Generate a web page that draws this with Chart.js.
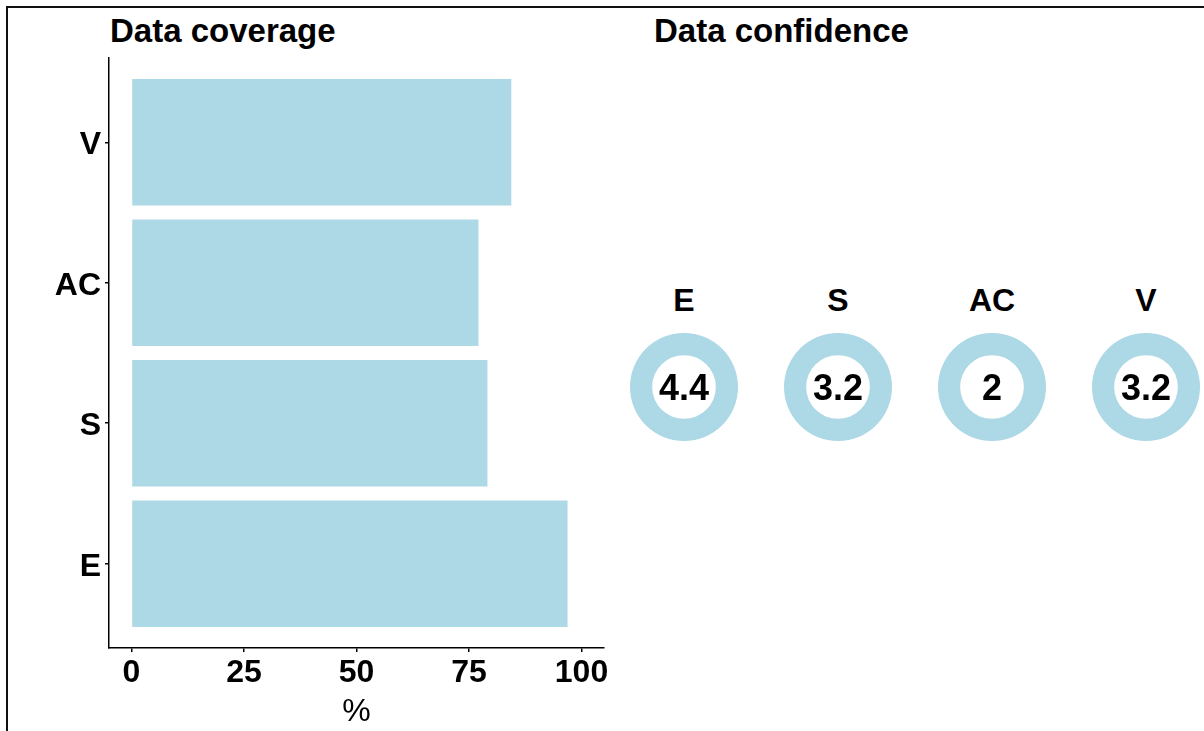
<!DOCTYPE html>
<html>
<head>
<meta charset="utf-8">
<script src="https://cdn.jsdelivr.net/npm/chart.js@4"></script>
<style>
  html, body { margin: 0; padding: 0; background: #fff; overflow: hidden; }
  body { width: 1204px; height: 731px; position: relative; font-family: "Liberation Sans", Arial, sans-serif; }
  .frame { position: absolute; left: 6px; top: 6px; width: 1400px; height: 1000px; border: 2px solid #111; }
  .title { position: absolute; font-size: 33px; font-weight: bold; line-height: 33px; color: #000; white-space: nowrap; }
  .lbl { position: absolute; width: 120px; text-align: center; font-weight: bold; color: #000; }
  #bars { position: absolute; left: 0; top: 0; }
  .ring { position: absolute; }
</style>
</head>
<body>
<div class="frame"></div>
<div class="title" style="left:110px; top:14px;">Data coverage</div>
<div class="title" style="left:654px; top:14px;">Data confidence</div>
<canvas id="bars" width="620" height="731"></canvas>
<div id="rings"></div>

<script>
// valeurs
const categories = ['E', 'S', 'AC', 'V'];          // de bas en haut
const coverage = [96.9, 79.1, 77.1, 84.4];          // %
const xTicks = [0, 25, 50, 75, 100];

const confLabels = ['E', 'S', 'AC', 'V'];           // de gauche à droite
const confidence = [4.4, 3.2, 2, 3.2];

const blue = '#ADD8E6';
const font = 'Liberation Sans';

Chart.defaults.font.family = font;
Chart.defaults.animation = false;

function createBarChart() {
    const ctx = document.getElementById('bars');
    new Chart(ctx, {
        type: 'bar',
        data: {
            datasets: [{
                data: categories.map((c, i) => ({ x: coverage[i], y: i })),
                backgroundColor: blue,
                borderWidth: 0,
                barPercentage: 0.9,
                categoryPercentage: 1
            }]
        },
        options: {
            indexAxis: 'y',
            responsive: false,
            layout: { padding: { top: 58, right: 16, left: 0, bottom: 0 } },
            plugins: { legend: { display: false }, tooltip: { enabled: false }, title: { display: false } },
            scales: {
                x: {
                    type: 'linear',
                    min: -5,
                    max: 105,
                    afterBuildTicks: axis => { axis.ticks = xTicks.map(v => ({ value: v })); },
                    afterFit: axis => { axis.height = 83; },
                    grid: { drawOnChartArea: false, color: '#000', lineWidth: 1.5, tickLength: 4 },
                    border: { color: '#000', width: 1.5 },
                    ticks: { color: '#000', font: { size: 32, weight: 'bold' }, padding: 2, maxRotation: 0 },
                    title: { display: true, text: '%', color: '#000', font: { size: 32 }, padding: { top: 0, bottom: 0 } }
                },
                y: {
                    type: 'linear',
                    min: -0.6,
                    max: 3.6,
                    offset: false,
                    afterBuildTicks: axis => { axis.ticks = categories.map((c, i) => ({ value: i })); },
                    afterFit: axis => { axis.width = 109; },
                    grid: { offset: false, drawOnChartArea: false, color: '#000', lineWidth: 1.5, tickLength: 4 },
                    border: { color: '#000', width: 1.5 },
                    ticks: {
                        color: '#000',
                        font: { size: 32, weight: 'bold' },
                        padding: 4,
                        labelOffset: 3,
                        callback: v => categories[v]
                    }
                }
            }
        }
    });
}

function createRings() {
    const holder = document.getElementById('rings');
    const cx0 = 684, cy = 387, step = 154, size = 108;
    confLabels.forEach((name, i) => {
        const cx = cx0 + i * step;

        const top = document.createElement('div');
        top.className = 'lbl';
        top.style.cssText = `left:${cx - 60}px; top:284px; font-size:32px; line-height:32px;`;
        top.textContent = name;
        holder.appendChild(top);

        const cv = document.createElement('canvas');
        cv.className = 'ring';
        cv.width = size; cv.height = size;
        cv.style.left = (cx - size / 2) + 'px';
        cv.style.top = (cy - size / 2) + 'px';
        holder.appendChild(cv);

        new Chart(cv, {
            type: 'doughnut',
            data: {
                labels: [name],
                datasets: [{ data: [confidence[i]], backgroundColor: blue, borderWidth: 0 }]
            },
            options: {
                responsive: false,
                cutout: '59%',
                plugins: { legend: { display: false }, tooltip: { enabled: false } }
            }
        });

        const num = document.createElement('div');
        num.className = 'lbl';
        num.style.cssText = `left:${cx - 60}px; top:370px; font-size:36px; line-height:36px;`;
        num.textContent = String(confidence[i]);
        holder.appendChild(num);
    });
}

createBarChart();
createRings();
</script>
</body>
</html>
